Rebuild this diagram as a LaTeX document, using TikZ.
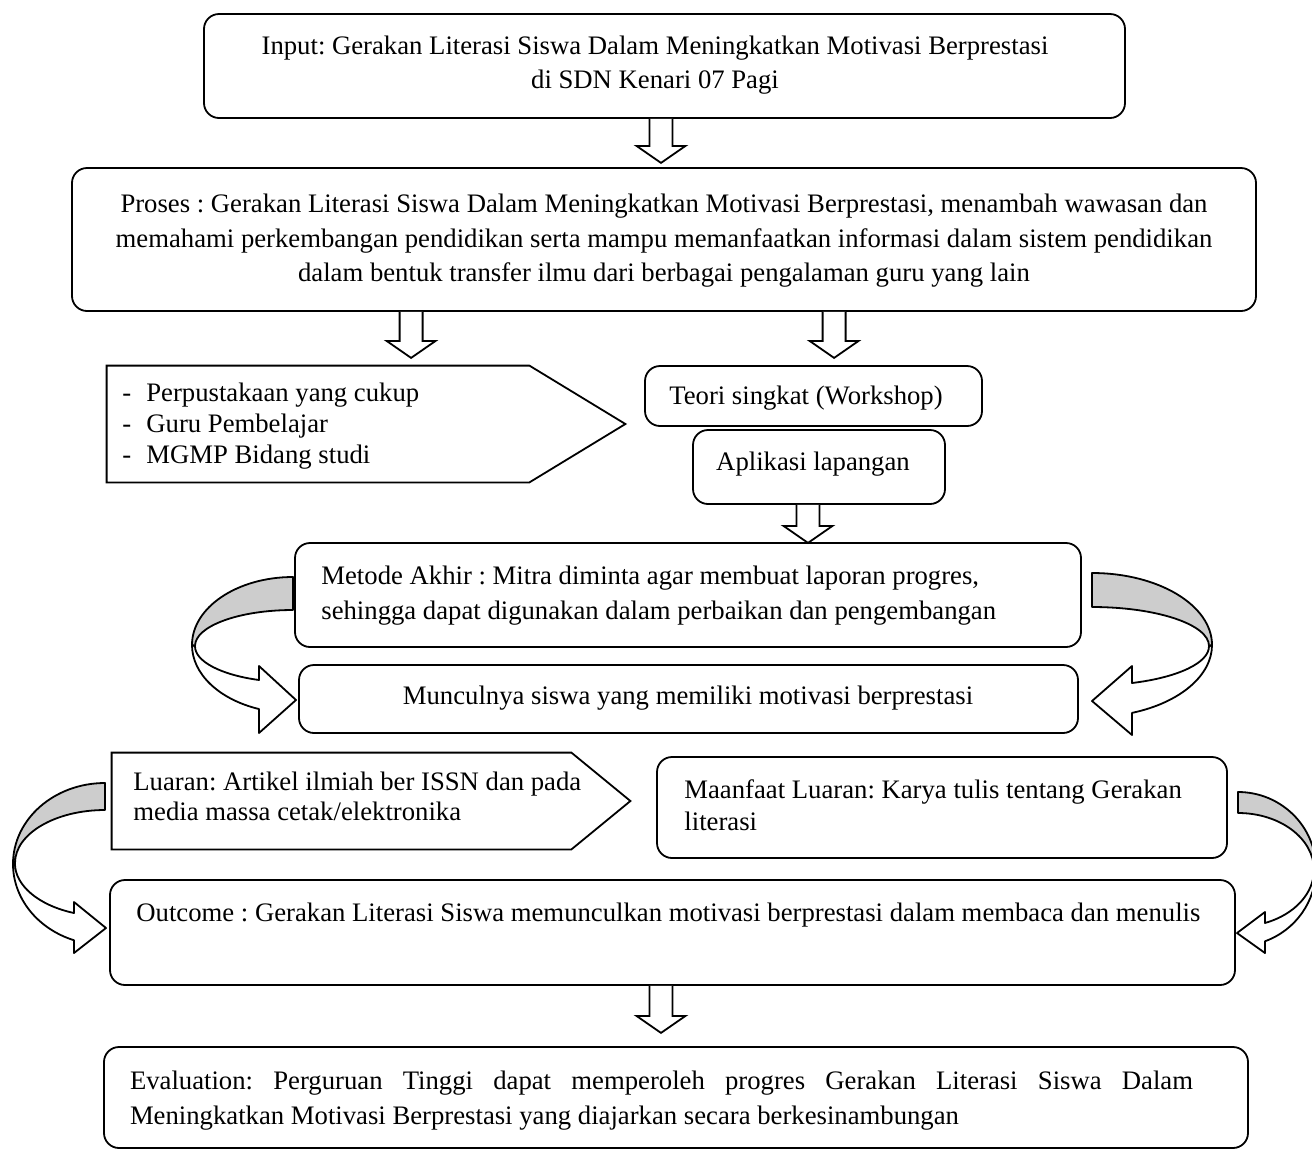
\documentclass[tikz,border=0pt]{standalone}
\usepackage{fontspec}
\setmainfont{Liberation Serif}
\usetikzlibrary{calc,fit}
\definecolor{bandgray}{RGB}{205,205,205}
\tikzset{
  lw/.style={line width=0.9pt},
  rbox/.style={lw, draw, rounded corners=7.5pt, inner sep=0pt},
  sbox/.style={inner sep=0pt},
  txt/.style={inner sep=0pt, font=\fontsize{13.35}{17}\selectfont},
  back/.style={lw, draw, fill=bandgray, line join=round},
  front/.style={lw, draw, fill=white, line join=round},
  pics/blockdown/.style={code={
    \draw[lw, fill=white] (-11.5,0) -- (-11.5,{#1-17}) -- (-24.5,{#1-17}) -- (0,#1)
      -- (24.5,{#1-17}) -- (11.5,{#1-17}) -- (11.5,0);}}
}
\begin{document}
\frenchspacing
\begin{tikzpicture}[x=0.5pt,y=-0.5pt]
\useasboundingbox (0,0) rectangle (1312,1158);
\clip (0,0) rectangle (1312,1158);

% boxes
\node[rbox, fit={(204,14) (1125,118)}] (input) {};
\node[rbox, fit={(72,168) (1256,311)}] (proses) {};
\node[sbox, fit={(107,366) (529,482)}] (sumber) {};
\draw[lw] (sumber.north west) -- (sumber.north east) -- ($(sumber.east)+(96,0)$)
  -- (sumber.south east) -- (sumber.south west) -- cycle;
\node[rbox, fit={(645,366) (982,426)}] (teori) {};
\node[rbox, fit={(693,430) (945,504)}] (aplikasi) {};
\node[rbox, fit={(295,543) (1081,647)}] (metode) {};
\node[rbox, fit={(299,665) (1078,733)}] (muncul) {};
\node[sbox, fit={(112,753) (571,849)}] (luaran) {};
\draw[lw] (luaran.north west) -- (luaran.north east) -- ($(luaran.east)+(59,0)$)
  -- (luaran.south east) -- (luaran.south west) -- cycle;
\node[rbox, fit={(657,757) (1227,858)}] (manfaat) {};
\node[rbox, fit={(110,880) (1235,985)}] (outcome) {};
\node[rbox, fit={(104,1047) (1248,1148)}] (eval) {};

% texts
\node[txt, align=center] (tinput) at (655,65)
  {Input: Gerakan Literasi Siswa Dalam Meningkatkan Motivasi Berprestasi\\
   di SDN Kenari 07 Pagi};
\node[txt, align=center, font=\fontsize{13.35}{17.25}\selectfont] (tproses) at (664,241)
  {Proses : Gerakan Literasi Siswa Dalam Meningkatkan Motivasi Berprestasi, menambah wawasan dan\\
   memahami perkembangan pendidikan serta mampu memanfaatkan informasi dalam sistem pendidikan\\
   dalam bentuk transfer ilmu dari berbagai pengalaman guru yang lain};
\node[txt, align=left, anchor=west, font=\fontsize{13.35}{15.5}\selectfont] (tsumber) at (122,426)
  {\makebox[12pt][l]{-}Perpustakaan yang cukup\\
   \makebox[12pt][l]{-}Guru Pembelajar\\
   \makebox[12pt][l]{-}MGMP Bidang studi};
\node[txt] (tteori) at (806,398) {Teori singkat (Workshop)};
\node[txt] (taplikasi) at (813,464) {Aplikasi lapangan};
\node[txt, align=left, anchor=west, font=\fontsize{13.35}{17.5}\selectfont] (tmetode) at (321,595.5)
  {Metode Akhir : Mitra diminta agar membuat laporan progres,\\
   sehingga dapat digunakan dalam perbaikan dan pengembangan};
\node[txt] (tmuncul) at (688,698) {Munculnya siswa yang memiliki motivasi berprestasi};
\node[txt, align=left, anchor=west, font=\fontsize{13.35}{15}\selectfont] (tluaran) at (133,796.5)
  {Luaran: Artikel ilmiah ber ISSN dan pada\\ media massa cetak/elektronika};
\node[txt, align=left, anchor=west, font=\fontsize{13.35}{16}\selectfont] (tmanfaat) at (684,805)
  {Maanfaat Luaran: Karya tulis tentang Gerakan\\ literasi};
\node[txt, anchor=west] (toutcome) at (136,915)
  {Outcome : Gerakan Literasi Siswa memunculkan motivasi berprestasi dalam membaca dan menulis};
\node[txt, align=justify, text width=531.5pt, font=\fontsize{13.35}{17.5}\selectfont] (teval) at (661.5,1101)
  {Evaluation: Perguruan Tinggi dapat memperoleh progres Gerakan Literasi Siswa Dalam\linebreak
   Meningkatkan Motivasi Berprestasi yang diajarkan secara berkesinambungan};

% straight block arrows
\pic at ($(input.south)+(-3.5,0)$) {blockdown=44};
\pic at ($(proses.south west)+(340,0)$) {blockdown=46};
\pic at ($(proses.south west)+(763,0)$) {blockdown=46};
\pic at ($(aplikasi.south)+(-11,0)$) {blockdown=38};
\pic at ($(outcome.south)+(-11.5,0)$) {blockdown=47};

% curved arrow: metode -> muncul (left)
\path[back] (293,577) arc[start angle=270, end angle=180, x radius=101, y radius=68]
  -- (195,646) arc[start angle=180, end angle=270, x radius=98, y radius=36] -- cycle;
\path[front] (192,645) arc[start angle=180, end angle=109.7, x radius=101, y radius=68]
  -- (259,733) -- (296,700) -- (259,666) -- (259,680)
  arc[start angle=110.3, end angle=180, x radius=98, y radius=36] -- cycle;

% curved arrow: metode -> muncul (right)
\path[back] (1092,573) arc[start angle=270, end angle=360, x radius=120, y radius=72]
  -- (1209,646) arc[start angle=0, end angle=-90, x radius=117, y radius=39] -- cycle;
\path[front] (1212,645) arc[start angle=0, end angle=70.5, x radius=120, y radius=72]
  -- (1132,735) -- (1092,701) -- (1132,666) -- (1132,683)
  arc[start angle=70, end angle=0, x radius=117, y radius=39] -- cycle;

% curved arrow: luaran -> outcome (left)
\path[back] (105,783) arc[start angle=270, end angle=180, x radius=92, y radius=81]
  -- (15,863) arc[start angle=180, end angle=270, x radius=90, y radius=53] -- cycle;
\path[front] (13,864) arc[start angle=180, end angle=109.7, x radius=92, y radius=81]
  -- (74,953) -- (106,928) -- (74,902) -- (74,913)
  arc[start angle=110.1, end angle=180, x radius=90, y radius=53] -- cycle;

% curved arrow: manfaat -> outcome (right)
\path[back] (1238,792) arc[start angle=270, end angle=360, x radius=78, y radius=77]
  -- (1314,870) arc[start angle=0, end angle=-90, x radius=76, y radius=57] -- cycle;
\path[front] (1316,869) arc[start angle=0, end angle=69.75, x radius=78, y radius=77]
  -- (1265,953) -- (1237,933) -- (1265,912) -- (1265,923)
  arc[start angle=69.2, end angle=0, x radius=76, y radius=57] -- cycle;
\end{tikzpicture}
\end{document}
